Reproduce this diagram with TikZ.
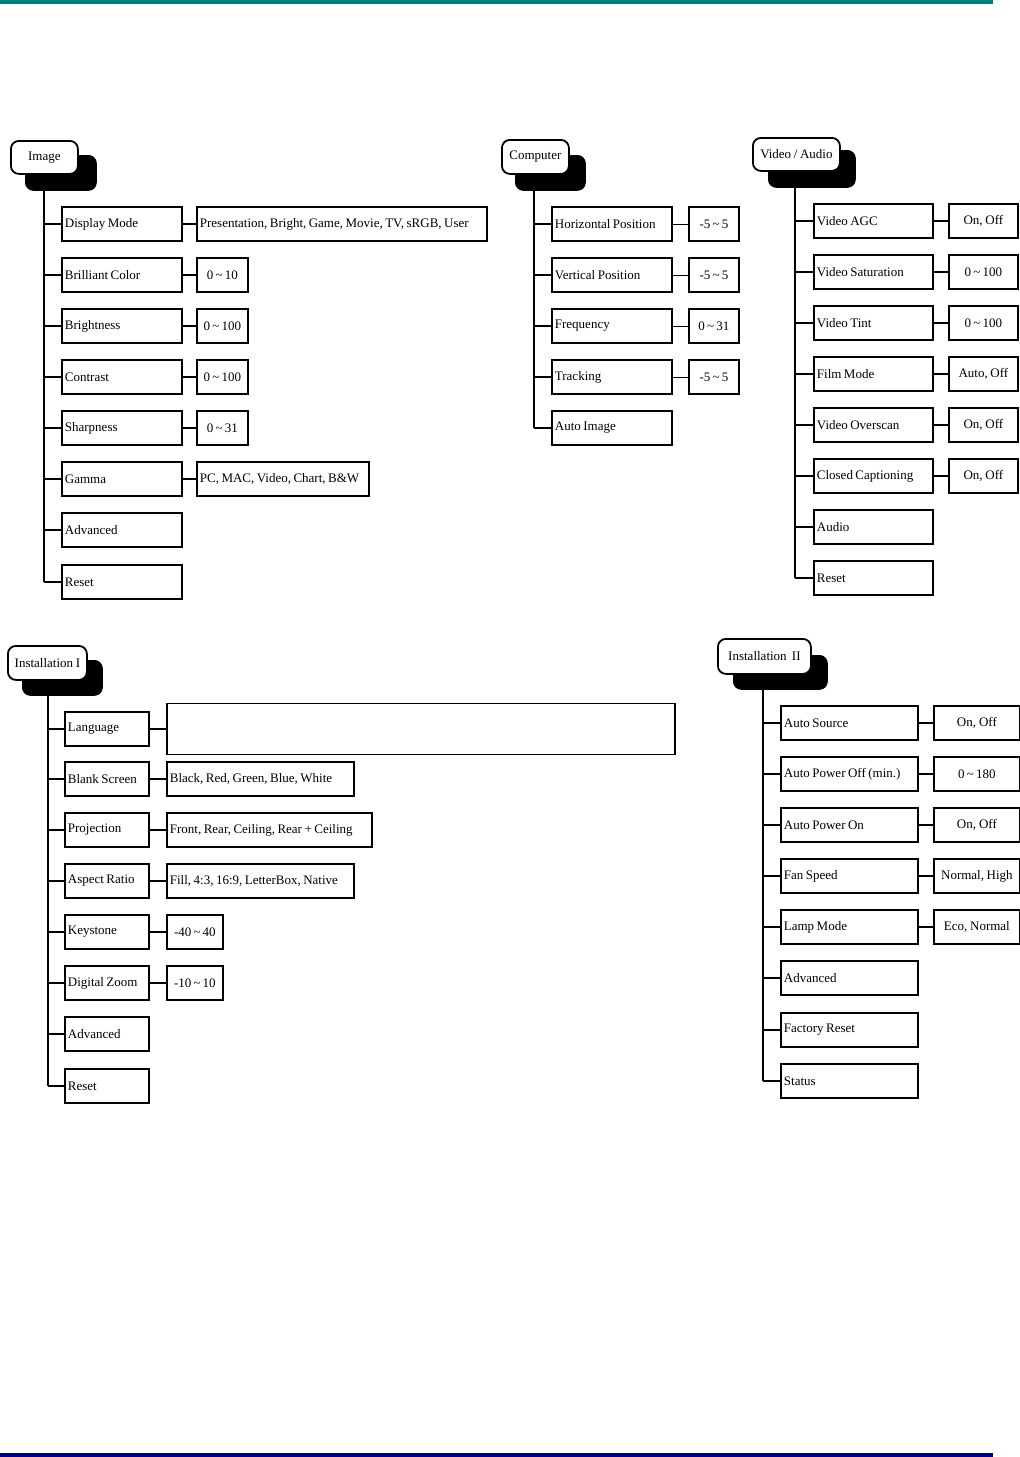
\documentclass[tikz,border=0pt]{standalone}
\usepackage{fontspec}
\setmainfont{Liberation Serif}[WordSpace=0.8]
\newcommand\boxfont{\fontsize{6.5}{7}\selectfont}
\begin{document}
\begin{tikzpicture}[x=0.5pt,y=-0.5pt,
  lbox/.style={draw, line width=0.9pt, minimum height=17pt, inner xsep=1.5pt, inner ysep=0pt, anchor=west, align=left, text width=#1, font=\boxfont, execute at begin node={\spaceskip=0.19em plus 0.05em minus 0.03em\relax}},
  vbox/.style={lbox=#1, align=center},
  vlbox/.style={lbox=#1, align=left},
  hwhite/.style={draw, line width=0.9pt, fill=white, rounded corners=4pt, anchor=north west, inner sep=0pt, font=\boxfont},
  hblack/.style={draw, fill=black, rounded corners=4pt, anchor=north west, inner sep=0pt},
  trunk/.style={line width=1.1pt},
  conn/.style={line width=0.9pt}]
\useasboundingbox (0,0) rectangle (1020,1457);
\fill[teal] (0,0) rectangle (993,4);
\fill[blue!55!black] (0,1453) rectangle (993,1457);

% ---------- Image ----------
\node[hblack, minimum width=35.5pt, minimum height=17.5pt] (imgS) at (25,155) {};
\node[hwhite, minimum width=33.5pt, minimum height=16.5pt] (imgH) at (10,140) {Image};
\coordinate (imgT) at (44,191);
\node[lbox=57pt] (i1) at (61,224) {Display Mode};
\node[lbox=57pt] (i2) at (61,275) {Brilliant Color};
\node[lbox=57pt] (i3) at (61,326) {Brightness};
\node[lbox=57pt] (i4) at (61,377) {Contrast};
\node[lbox=57pt] (i5) at (61,428) {Sharpness};
\node[lbox=57pt] (i6) at (61,479) {Gamma};
\node[lbox=57pt] (i7) at (61,530) {Advanced};
\node[lbox=57pt] (i8) at (61,582) {Reset};
\node[vlbox=142pt] (iv1) at (196,224) {Presentation, Bright, Game, Movie, TV, sRGB, User};
\node[vbox=22.5pt] (iv2) at (196,275) {0\,\textasciitilde\,10};
\node[vbox=22.5pt] (iv3) at (196,326) {0\,\textasciitilde\,100};
\node[vbox=22.5pt] (iv4) at (196,377) {0\,\textasciitilde\,100};
\node[vbox=22.5pt] (iv5) at (196,428) {0\,\textasciitilde\,31};
\node[vlbox=83pt] (iv6) at (196,479) {PC, MAC, Video, Chart, B\&W};
\draw[trunk] (imgT) -- (imgT |- i8.west);
\foreach \k in {1,...,8} \draw[conn] (imgT |- i\k.west) -- (i\k.west);
\foreach \k in {1,...,6} \draw[conn] (i\k.east) -- (iv\k.west);

% ---------- Computer ----------
\node[hblack, minimum width=35pt, minimum height=17.5pt] (cmpS) at (515,155) {};
\node[hwhite, minimum width=33.5pt, minimum height=17pt] (cmpH) at (501,139) {Computer};
\coordinate (cmpT) at (534,190);
\node[lbox=57pt] (c1) at (551,224) {Horizontal Position};
\node[lbox=57pt] (c2) at (551,275) {Vertical Position};
\node[lbox=57pt] (c3) at (551,326) {Frequency};
\node[lbox=57pt] (c4) at (551,377) {Tracking};
\node[lbox=57pt] (c5) at (551,428) {Auto Image};
\node[vbox=22pt] (cv1) at (688,224) {-5\,\textasciitilde\,5};
\node[vbox=22pt] (cv2) at (688,275) {-5\,\textasciitilde\,5};
\node[vbox=22pt] (cv3) at (688,326) {0\,\textasciitilde\,31};
\node[vbox=22pt] (cv4) at (688,377) {-5\,\textasciitilde\,5};
\draw[trunk] (cmpT) -- (cmpT |- c5.west);
\foreach \k in {1,...,5} \draw[conn] (cmpT |- c\k.west) -- (c\k.west);
\foreach \k in {1,...,4} \draw[line width=0.5pt] (c\k.east) -- (cv\k.west);

% ---------- Video / Audio ----------
\node[hblack, minimum width=43.5pt, minimum height=18.5pt] (vidS) at (768,150) {};
\node[hwhite, minimum width=43.5pt, minimum height=16.5pt] (vidH) at (752,137) {Video / Audio};
\coordinate (vidT) at (795,187);
\node[lbox=56.5pt] (v1) at (813,221) {Video AGC};
\node[lbox=56.5pt] (v2) at (813,272) {Video Saturation};
\node[lbox=56.5pt] (v3) at (813,323) {Video Tint};
\node[lbox=56.5pt] (v4) at (813,374) {Film Mode};
\node[lbox=56.5pt] (v5) at (813,425) {Video Overscan};
\node[lbox=56.5pt] (v6) at (813,476) {Closed Captioning};
\node[lbox=56.5pt] (v7) at (813,527) {Audio};
\node[lbox=56.5pt] (v8) at (813,578) {Reset};
\node[vbox=31.5pt] (vv1) at (948,221) {On, Off};
\node[vbox=31.5pt] (vv2) at (948,272) {0\,\textasciitilde\,100};
\node[vbox=31.5pt] (vv3) at (948,323) {0\,\textasciitilde\,100};
\node[vbox=31.5pt] (vv4) at (948,374) {Auto, Off};
\node[vbox=31.5pt] (vv5) at (948,425) {On, Off};
\node[vbox=31.5pt] (vv6) at (948,476) {On, Off};
\draw[trunk] (vidT) -- (vidT |- v8.west);
\foreach \k in {1,...,8} \draw[conn] (vidT |- v\k.west) -- (v\k.west);
\foreach \k in {1,...,6} \draw[conn] (v\k.east) -- (vv\k.west);

% ---------- Installation I ----------
\node[hblack, minimum width=40pt, minimum height=17.5pt] (inaS) at (22,660) {};
\node[hwhite, minimum width=39.5pt, minimum height=17pt] (inaH) at (7,645) {Installation I};
\coordinate (inaT) at (48,695);
\node[lbox=39pt] (a1) at (64,729) {Language};
\node[lbox=39pt] (a2) at (64,779) {Blank Screen};
\node[lbox=39pt] (a3) at (64,830) {Projection};
\node[lbox=39pt] (a4) at (64,881) {Aspect Ratio};
\node[lbox=39pt] (a5) at (64,932) {Keystone};
\node[lbox=39pt] (a6) at (64,983) {Digital Zoom};
\node[lbox=39pt] (a7) at (64,1034) {Advanced};
\node[lbox=39pt] (a8) at (64,1086) {Reset};
\node[vlbox=251pt, minimum height=25.5pt] (av1) at (166,729) {};
\node[vlbox=90.5pt] (av2) at (166,779) {Black, Red, Green, Blue, White};
\node[vlbox=99.5pt] (av3) at (166,830) {Front, Rear, Ceiling, Rear + Ceiling};
\node[vlbox=90.5pt] (av4) at (166,881) {Fill, 4:3, 16:9, LetterBox, Native};
\node[vbox=25pt] (av5) at (166,932) {-40\,\textasciitilde\,40};
\node[vbox=25pt] (av6) at (166,983) {-10\,\textasciitilde\,10};
\draw[trunk] (inaT) -- (inaT |- a8.west);
\foreach \k in {1,...,8} \draw[conn] (inaT |- a\k.west) -- (a\k.west);
\foreach \k in {1,...,6} \draw[conn] (a\k.east) -- (av\k.west);

% ---------- Installation II ----------
\node[hblack, minimum width=47pt, minimum height=17pt] (inbS) at (733,655) {};
\node[hwhite, minimum width=46.5pt, minimum height=17.5pt] (inbH) at (717,638) {Installation~~II};
\coordinate (inbT) at (763,689);
\node[lbox=65.5pt] (b1) at (780,723) {Auto Source};
\node[lbox=65.5pt] (b2) at (780,774) {Auto Power Off (min.)};
\node[lbox=65.5pt] (b3) at (780,825) {Auto Power On};
\node[lbox=65.5pt] (b4) at (780,876) {Fan Speed};
\node[lbox=65.5pt] (b5) at (780,927) {Lamp Mode};
\node[lbox=65.5pt] (b6) at (780,978) {Advanced};
\node[lbox=65.5pt] (b7) at (780,1030) {Factory Reset};
\node[lbox=65.5pt] (b8) at (780,1081) {Status};
\node[vbox=40pt] (bv1) at (933,723) {On, Off};
\node[vbox=40pt] (bv2) at (933,774) {0\,\textasciitilde\,180};
\node[vbox=40pt] (bv3) at (933,825) {On, Off};
\node[vbox=40pt] (bv4) at (933,876) {Normal, High};
\node[vbox=40pt] (bv5) at (933,927) {Eco, Normal};
\draw[trunk] (inbT) -- (inbT |- b8.west);
\foreach \k in {1,...,8} \draw[conn] (inbT |- b\k.west) -- (b\k.west);
\foreach \k in {1,...,5} \draw[conn] (b\k.east) -- (bv\k.west);
\end{tikzpicture}
\end{document}
